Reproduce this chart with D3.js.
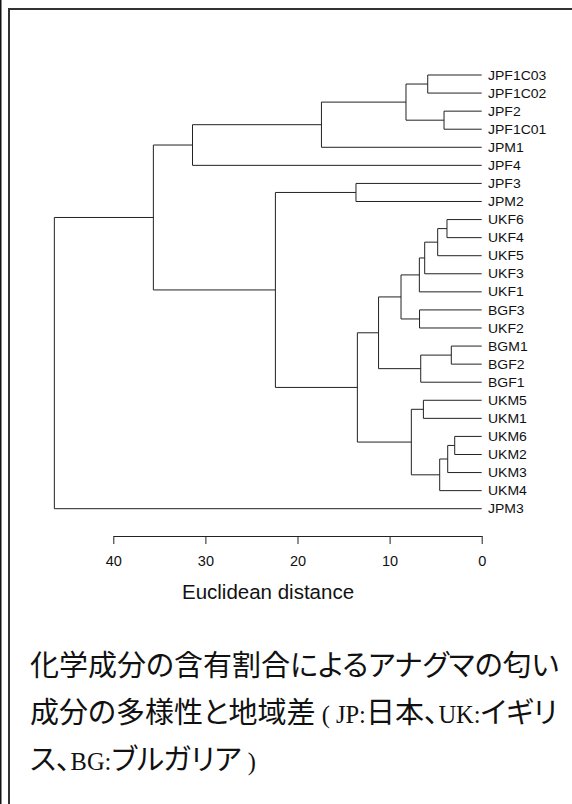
<!DOCTYPE html>
<html><head><meta charset="utf-8">
<script src="https://cdn.jsdelivr.net/npm/d3@7"></script>
<style>
html,body{margin:0;padding:0;background:#fff;}
svg{display:block;}
.cap{font-feature-settings:"palt";}
</style></head>
<body>
<script>
// Leaf labels in display order (top to bottom)
const leafLabels = ["JPF1C03","JPF1C02","JPF2","JPF1C01","JPM1","JPF4","JPF3","JPM2",
  "UKF6","UKF4","UKF5","UKF3","UKF1","BGF3","UKF2","BGM1","BGF2","BGF1",
  "UKM5","UKM1","UKM6","UKM2","UKM3","UKM4","JPM3"];
// hclust-style merges: negative = leaf (1-based index into leafLabels), positive = earlier merge row
const merges = [
  [-21,-22],[-16,-17],[1,-23],[-9,-10],[-3,-4],[3,-24],[4,-11],[-1,-2],
  [7,-12],[-19,-20],[2,-18],[9,-13],[-14,-15],[10,6],[8,5],[12,13],
  [16,11],[17,14],[-7,-8],[15,-5],[19,18],[20,-6],[22,21],[23,-25]
];
// Merge heights (Euclidean distance)
const mergeHeights = [2.93,3.30,3.69,3.77,4.09,4.56,4.78,5.86,6.19,6.33,6.62,6.77,6.75,7.64,8.22,8.76,
  11.2,13.5,13.65,17.4,22.4,31.4,35.65,46.4];
const tickValues = [0,10,20,30,40];
const axisTitle = "Euclidean distance";

const W = 572, H = 804;
const svg = d3.select("body").append("svg").attr("width", W).attr("height", H);

// frame
svg.append("rect").attr("x",0).attr("y",0).attr("width",1.5).attr("height",H).attr("fill","#111");
svg.append("path").attr("d",`M9,${H}V9H${W}`).attr("fill","none").attr("stroke","#333").attr("stroke-width",2);

// build tree
function build(ref){
  if (ref < 0) return {name: leafLabels[-ref-1], h: 0};
  const m = merges[ref-1];
  return {h: mergeHeights[ref-1], children: [build(m[0]), build(m[1])]};
}
const root = d3.hierarchy(build(merges.length));

const x = d3.scaleLinear().domain([0,40]).range([481.7,113.3]);
const y = d3.scalePoint().domain(leafLabels).range([75,508.7]);

root.eachAfter(n => {
  if (!n.children) n.py = y(n.data.name);
  else n.py = d3.mean(n.children, c => c.py);
  n.px = x(n.data.h);
});

const g = svg.append("g").attr("fill","none").attr("stroke","#222").attr("stroke-width",1);
root.each(n => {
  if (!n.children) return;
  const [a,b] = n.children;
  g.append("path").attr("d",
    `M${a.px},${a.py}H${n.px}V${b.py}H${b.px}`);
});

// leaf labels
svg.append("g").selectAll("text").data(root.leaves()).join("text")
  .attr("transform", d => `translate(488,${d.py+4.6}) scale(1.12,1)`)
  .attr("font-family","'Liberation Sans', Arial, sans-serif")
  .attr("font-size",12.5).attr("fill","#111")
  .text(d => d.data.name);

// axis
const axis = d3.axisBottom(x).tickValues(tickValues).tickSize(8).tickSizeOuter(0).tickPadding(12);
const ag = svg.append("g").attr("transform","translate(0,536)").call(axis);
ag.select(".domain").attr("stroke","#222");
ag.selectAll(".tick line").attr("stroke","#222");
ag.selectAll(".tick text").attr("font-family","'Liberation Sans', Arial, sans-serif")
  .attr("font-size",14.5).attr("fill","#111");

svg.append("text").attr("x",268).attr("y",599).attr("text-anchor","middle")
  .attr("font-family","'Liberation Sans', Arial, sans-serif").attr("font-size",20.5).attr("fill","#111")
  .text(axisTitle);

// caption
const jp = "'Noto Sans CJK JP', sans-serif", serif = "'Liberation Serif', serif";
const captionLines = [
  [["化学成分の含有割合によるアナグマの匂い", jp]],
  [["成分の多様性と地域差", jp],[" ( JP:", serif],["日本、", jp],["UK:", serif],["イギリ", jp]],
  [["ス、", jp],["BG:", serif],["ブルガリア", jp],[" )", serif]]
];
const captionY = [676, 723, 770];
captionLines.forEach((line,i) => {
  const t = svg.append("text").attr("class","cap").attr("x",30).attr("y",captionY[i]).attr("font-size",29).attr("fill","#111");
  line.forEach(([s,f]) => {
    const ts = t.append("tspan").attr("font-family",f).text(s);
    if (f === serif) ts.attr("font-size",24.5);
  });
});
</script>
</body></html>
